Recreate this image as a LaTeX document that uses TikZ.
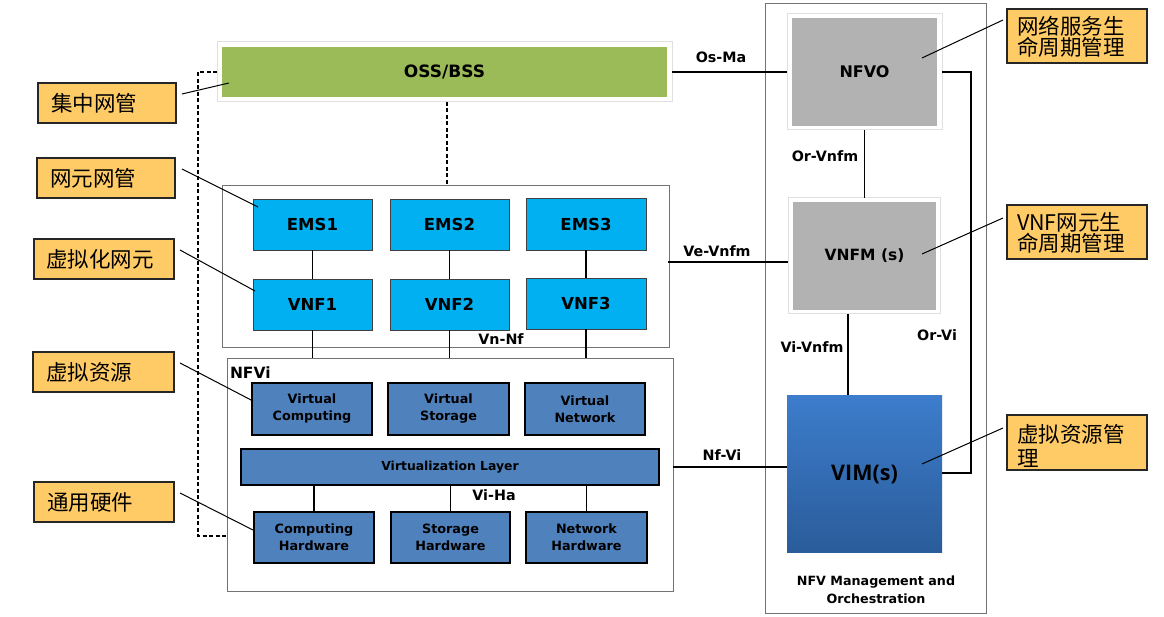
\documentclass[tikz,border=0pt]{standalone}
\usepackage{fontspec}
\setmainfont{DejaVu Sans}
\newfontfamily\osans{Open Sans}
\newfontfamily\cjk{Noto Sans CJK SC}
\usetikzlibrary{calc}
\definecolor{ossgreen}{HTML}{9BBB59}
\definecolor{emsblue}{HTML}{00B0F0}
\definecolor{nfviblue}{HTML}{4F81BD}
\definecolor{manogray}{HTML}{B2B2B2}
\definecolor{tagyellow}{HTML}{FFCB66}
\definecolor{vimtop}{HTML}{3D7DCC}
\definecolor{vimbot}{HTML}{2A5C9A}
\tikzset{
  every node/.style={inner sep=0pt, outer sep=0pt},
  frame/.style={draw=black!55, line width=0.9pt},
  emsbox/.style={draw=black!75, line width=0.8pt, fill=emsblue, font=\bfseries\fontsize{16.5}{18}\selectfont},
  nfvibox/.style={draw=black, line width=2pt, fill=nfviblue, align=center, font=\bfseries\fontsize{12.8}{17}\selectfont},
  manobox/.style={fill=manogray, font=\bfseries\fontsize{15.5}{18}\selectfont},
  shadowframe/.style={fill=white, draw=black!12, line width=1pt},
  tagbox/.style={draw=black!85, line width=1.5pt, fill=tagyellow},
  tagtext/.style={font=\cjk\fontsize{21.5}{21.5}\selectfont, anchor=west},
  iflabel/.style={font=\bfseries\fontsize{14.3}{16}\selectfont},
  link/.style={draw=black, line width=1.1pt},
  dlink/.style={draw=black, line width=1.1pt, dash pattern=on 4pt off 2.5pt},
}
\begin{document}
\begin{tikzpicture}[x=1pt,y=-1pt]
\useasboundingbox (0,0) rectangle (1164,617);
\fill[white] (0,0) rectangle (1164,617);

% containers
\node[frame, minimum width=447, minimum height=162] (emsc) at (445.5,266) {};
\node[frame, minimum width=446, minimum height=233] (nfvic) at (450,474.5) {};
\node[frame, minimum width=221, minimum height=610] (manoc) at (875.5,308) {};

% OSS/BSS
\node[shadowframe, minimum width=455, minimum height=60] (ossf) at (444.5,72) {};
\node[fill=ossgreen, minimum width=445, minimum height=50, font=\bfseries\fontsize{17}{20}\selectfont] (oss) at (444.5,72) {OSS/BSS};

% EMS / VNF
\node[emsbox, minimum width=119, minimum height=51] (ems1) at (312.5,224.5) {EMS1};
\node[emsbox, minimum width=119, minimum height=51] (ems2) at (449.5,224.5) {EMS2};
\node[emsbox, minimum width=120, minimum height=52] (ems3) at (586,224) {EMS3};
\node[emsbox, minimum width=119, minimum height=51] (vnf1) at (312.5,304.5) {VNF1};
\node[emsbox, minimum width=119, minimum height=51] (vnf2) at (449.5,304.5) {VNF2};
\node[emsbox, minimum width=120, minimum height=51] (vnf3) at (586,303.5) {VNF3};

% NFVi
\node[font=\bfseries\fontsize{15.5}{16}\selectfont, anchor=west] (nfvil) at (230,373) {NFVi};
\node[nfvibox, minimum width=120, minimum height=52] (vcomp) at (312,409) {Virtual\\Computing};
\node[nfvibox, minimum width=121, minimum height=52] (vstor) at (448.5,409) {Virtual\\Storage};
\node[nfvibox, minimum width=120, minimum height=52] (vnet) at (585,409) {Virtual\\Network};
\node[nfvibox, minimum width=418, minimum height=36, font=\bfseries\fontsize{12.4}{15}\selectfont] (vl) at (450,467) {Virtualization Layer};
\node[nfvibox, minimum width=120, minimum height=51] (chw) at (314,537.5) {Computing\\Hardware};
\node[nfvibox, minimum width=119, minimum height=51] (shw) at (450.5,537.5) {Storage\\Hardware};
\node[nfvibox, minimum width=121, minimum height=51] (nhw) at (586.5,537.5) {Network\\Hardware};

% MANO
\node[shadowframe, minimum width=155, minimum height=116] (nfvof) at (864.5,72) {};
\node[manobox, minimum width=145, minimum height=108, font=\bfseries\fontsize{16}{18}\selectfont] (nfvo) at (864.5,72) {NFVO};
\node[shadowframe, minimum width=152, minimum height=116] (vnfmf) at (864.5,256) {};
\node[manobox, minimum width=143, minimum height=108] (vnfm) at (864.5,256) {VNFM (s)};
\shade[top color=vimtop, bottom color=vimbot] (787,395) rectangle (942,552);
\node[minimum width=155, minimum height=157, font=\osans\bfseries\fontsize{21.5}{24}\selectfont] (vim) at (864.5,475) {VIM(s)};
\node[align=center, font=\bfseries\fontsize{12.7}{18}\selectfont] (manol) at (876,590) {NFV Management and\\Orchestration};

% tags left
\node[tagbox, minimum width=138, minimum height=40] (t1) at (107,103) {};
\node[tagtext] (t1t) at ($(t1.west)+(13,0)$) {集中网管};
\node[tagbox, minimum width=138, minimum height=40] (t2) at (106,178) {};
\node[tagtext] (t2t) at ($(t2.west)+(13,0)$) {网元网管};
\node[tagbox, minimum width=140, minimum height=40] (t3) at (104,259) {};
\node[tagtext] (t3t) at ($(t3.west)+(12,0)$) {虚拟化网元};
\node[tagbox, minimum width=141, minimum height=40] (t4) at (103.5,372) {};
\node[tagtext] (t4t) at ($(t4.west)+(13,0)$) {虚拟资源};
\node[tagbox, minimum width=140, minimum height=40] (t5) at (104,502) {};
\node[tagtext] (t5t) at ($(t5.west)+(13,0)$) {通用硬件};

% tags right
\node[tagbox, minimum width=140, minimum height=54] (r1) at (1077,36) {};
\begin{scope}
\clip (1007,9) rectangle (1147,63);
\node[tagtext, align=left, font=\cjk\fontsize{21.5}{21.5}\selectfont] (r1t) at (1017,37) {网络服务生\\命周期管理};
\end{scope}
\node[tagbox, minimum width=140, minimum height=54] (r2) at (1077,232) {};
\begin{scope}
\clip (1007,205) rectangle (1147,259);
\node[tagtext, align=left, font=\cjk\fontsize{21.5}{21.5}\selectfont] (r2t) at (1017,233) {VNF网元生\\命周期管理};
\end{scope}
\node[tagbox, minimum width=140, minimum height=55] (r3) at (1077,442.5) {};
\node[tagtext, align=left, font=\cjk\fontsize{21.5}{24}\selectfont] (r3t) at (1017,446) {虚拟资源管\\理};

% tag leader coordinates
\coordinate (a1) at (182,94);   \coordinate (b1) at (229,83);
\coordinate (a2) at (182,169);  \coordinate (b2) at (258,207);
\coordinate (a3) at (180,250);  \coordinate (b3) at (255,291);
\coordinate (a4) at (180,363);  \coordinate (b4) at (253,401);
\coordinate (a5) at (180,493);  \coordinate (b5) at (253,530);
\coordinate (c1) at (1003,20);  \coordinate (d1) at (922,58);
\coordinate (c2) at (1003,218); \coordinate (d2) at (922,254);
\coordinate (c3) at (1003,428); \coordinate (d3) at (922,464);
\foreach \i in {1,...,5} {\draw[line width=1pt] (a\i) -- (b\i);}
\foreach \i in {1,2,3} {\draw[line width=1pt] (c\i) -- (d\i);}

% internal links
\draw[link] (ems1) -- (vnf1);
\draw[link] (ems2) -- (vnf2);
\draw[link] (ems3) -- (vnf3);
\draw[link] (vnf1.south) -- (vnf1.south |- nfvic.north);
\draw[link] (vnf2.south) -- (vnf2.south |- nfvic.north);
\draw[link] (vnf3.south) -- (vnf3.south |- nfvic.north);
\node[iflabel] (vnnf) at (501,339) {Vn-Nf};
\draw[link] (vl.south -| chw.north) -- (chw.north);
\draw[link] (vl.south -| shw.north) -- (shw.north);
\draw[link] (vl.south -| nhw.north) -- (nhw.north);
\node[iflabel] (viha) at (494,495) {Vi-Ha};

% dashed management
\coordinate (dk1) at (198,72);
\coordinate (dk2) at (198,536);
\coordinate (dv1) at (447,102);
\coordinate (dv2) at (447,185);
\draw[dlink] (ossf.west) -- (dk1) -- (dk2) -- (dk2 -| nfvic.west);
\draw[dlink] (dv1) -- (dv2);

% interfaces to MANO
\draw[link] (ossf.east) -- (nfvof.west);
\node[iflabel] (osma) at (721,57) {Os-Ma};
\coordinate (ve1) at (668,262);
\coordinate (ve2) at (788,262);
\draw[link] (ve1) -- (ve2);
\node[iflabel] (vevnfm) at (717,251) {Ve-Vnfm};
\coordinate (nf1) at (673,467);
\coordinate (nf2) at (787,467);
\draw[link] (nf1) -- (nf2);
\node[iflabel] (nfvi) at (722,455) {Nf-Vi};

\draw[link] (nfvof.south) -- (vnfmf.north);
\node[iflabel] (orvnfm) at (825,156) {Or-Vnfm};
\coordinate (vv1) at (848,314);
\coordinate (vv2) at (848,395);
\draw[link] (vv1) -- (vv2);
\node[iflabel] (vivnfm) at (812,347) {Vi-Vnfm};
\coordinate (ov1) at (971,72);
\coordinate (ov2) at (971,473);
\draw[link] (nfvof.east) -- (ov1) -- (ov2) -- (ov2 -| vim.east);
\node[iflabel] (orvi) at (937,335) {Or-Vi};
\end{tikzpicture}
\end{document}
